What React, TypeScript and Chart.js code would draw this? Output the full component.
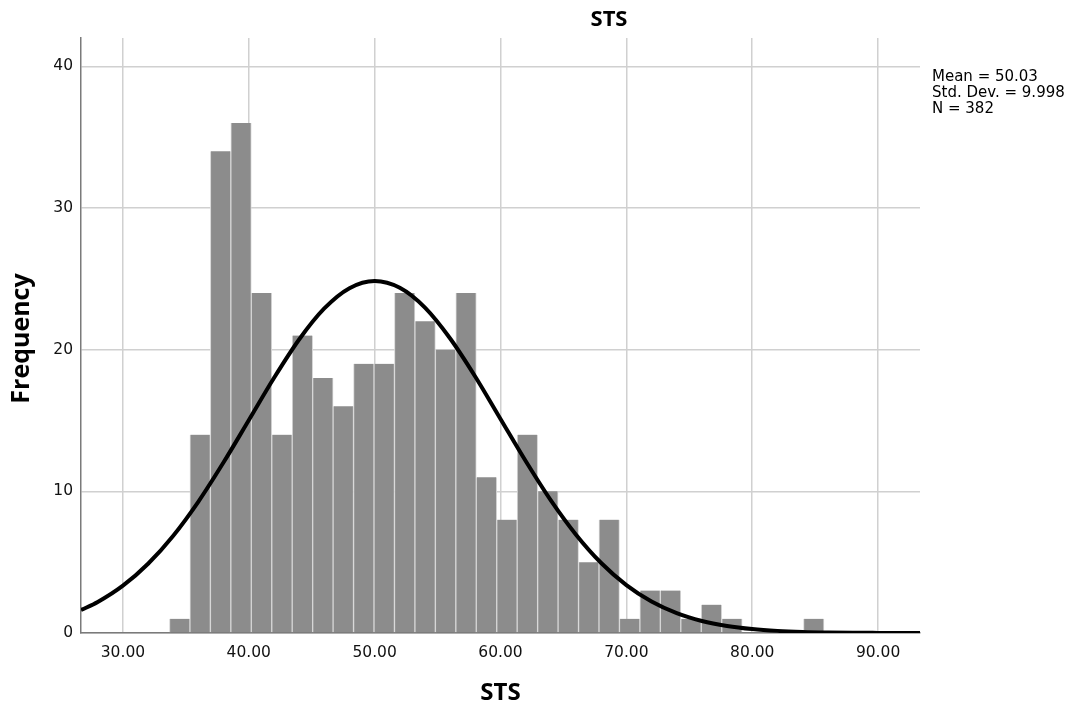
import React, { useEffect, useRef } from "react";
import { Chart, registerables } from "chart.js";

Chart.register(...registerables);

// Histogram bins (centre of each bin) and frequencies
const binCenters = [
  34.5125, 36.1375, 37.7625, 39.3875, 41.0125, 42.6375, 44.2625, 45.8875,
  47.5125, 49.1375, 50.7625, 52.3875, 54.0125, 55.6375, 57.2625, 58.8875,
  60.5125, 62.1375, 63.7625, 65.3875, 67.0125, 68.6375, 70.2625, 71.8875,
  73.5125, 75.1375, 76.7625, 78.3875, 80.0125, 81.6375, 83.2625, 84.8875,
];
const counts = [
  1, 14, 34, 36, 24, 14, 21, 18, 16, 19, 19, 24, 22, 20, 24, 11,
  8, 14, 10, 8, 5, 8, 1, 3, 3, 1, 2, 1, 0, 0, 0, 1,
];

// Normal curve
const curveX = [
  26.67, 28, 30, 32, 34, 36, 38, 40, 42, 44, 46, 48, 50, 52, 54, 56, 58, 60,
  62, 64, 66, 68, 70, 72, 74, 76, 78, 80, 82, 84, 86, 88, 90, 92, 93.33,
];
const curveY = [
  1.62, 2.19, 3.34, 4.89, 6.87, 9.28, 12.05, 15.02, 18.0, 20.72, 22.91, 24.34,
  24.85, 24.37, 22.97, 20.79, 18.09, 15.11, 12.14, 9.36, 6.94, 4.94, 3.38,
  2.22, 1.4, 0.85, 0.5, 0.28, 0.15, 0.077, 0.038, 0.018, 0.008, 0.003, 0.002,
];

const xTicks = [30, 40, 50, 60, 70, 80, 90];
const yTicks = [0, 10, 20, 30, 40];
const statsLines = ["Mean = 50.03", "Std. Dev. = 9.998", "N = 382"];
const chartTitle = "STS";
const xTitle = "STS";
const yTitle = "Frequency";

const textPlugin = {
  id: "textPlugin",
  afterDraw(chart: any) {
    const ctx = chart.ctx;
    const area = chart.chartArea;
    ctx.save();
    ctx.fillStyle = "#000";
    // top title
    ctx.font = 'bold 22px "Open Sans"';
    ctx.textAlign = "center";
    ctx.textBaseline = "alphabetic";
    ctx.fillText(chartTitle, 609, 26);
    // x title
    ctx.font = 'bold 24px "Open Sans"';
    ctx.fillText(xTitle, (area.left + area.right) / 2, 700);
    // y title
    ctx.save();
    ctx.translate(28.5, 338.5);
    ctx.rotate(-Math.PI / 2);
    ctx.font = 'bold 25px "Open Sans"';
    ctx.fillText(yTitle, 0, 0);
    ctx.restore();
    // stats
    ctx.font = '15px "DejaVu Sans"';
    ctx.textAlign = "left";
    const baselines = [80.5, 96.8, 113];
    statsLines.forEach((s, i) => ctx.fillText(s, 932, baselines[i]));
    ctx.restore();
  },
};

export default function App() {
  const ref = useRef<HTMLCanvasElement | null>(null);
  useEffect(() => {
    if (!ref.current) return;
    const tickFont = { family: "'DejaVu Sans'", size: 15.5 };
    const chart = new Chart(ref.current, {
      type: "bar",
      data: {
        datasets: [
          {
            type: "line",
            data: curveX.map((x, i) => ({ x, y: curveY[i] })),
            borderColor: "#000",
            borderWidth: 4,
            pointRadius: 0,
            tension: 0.4,
            cubicInterpolationMode: "monotone",
            fill: false,
            order: 0,
            clip: 0,
          } as any,
          {
            type: "bar",
            data: binCenters.map((x, i) => ({ x, y: counts[i] })),
            backgroundColor: "#8c8c8c",
            borderColor: "#d6d6d6",
            borderWidth: { left: 1, right: 1, top: 0, bottom: 0 },
            borderSkipped: false,
            barPercentage: 1,
            categoryPercentage: 1,
            order: 1,
          } as any,
        ],
      },
      options: {
        responsive: false,
        animation: false,
        events: [],
        layout: { padding: { left: 0, top: 38, right: 151, bottom: 0 } },
        plugins: { legend: { display: false }, tooltip: { enabled: false } },
        scales: {
          x: {
            type: "linear",
            min: 26.67,
            max: 93.33,
            offset: false,
            grid: { color: "#d0d0d0", lineWidth: 1.5, drawTicks: false, offset: false },
            border: { color: "#7a7a7a", width: 1.5 },
            ticks: {
              padding: 11,
              font: tickFont,
              color: "#111",
              autoSkip: false,
              maxRotation: 0,
              callback: (v: any) => Number(v).toFixed(2),
            },
            afterBuildTicks: (s: any) => {
              s.ticks = xTicks.map((v) => ({ value: v }));
            },
            afterFit: (s: any) => {
              s.height = 78;
            },
          },
          y: {
            type: "linear",
            min: 0,
            max: 42,
            grid: { color: "#d0d0d0", lineWidth: 1.5, drawTicks: false },
            border: { color: "#7a7a7a", width: 1.5 },
            ticks: { padding: 8, font: tickFont, color: "#111" },
            afterBuildTicks: (s: any) => {
              s.ticks = yTicks.map((v) => ({ value: v }));
            },
            afterFit: (s: any) => {
              s.width = 81;
            },
          },
        },
      },
      plugins: [textPlugin],
    });
    return () => chart.destroy();
  }, []);
  return (
    <div style={{ position: "absolute", left: 0, top: 0, width: 1071, height: 711, background: "#fff" }}>
      <canvas ref={ref} width={1071} height={711} style={{ display: "block" }} />
    </div>
  );
}
